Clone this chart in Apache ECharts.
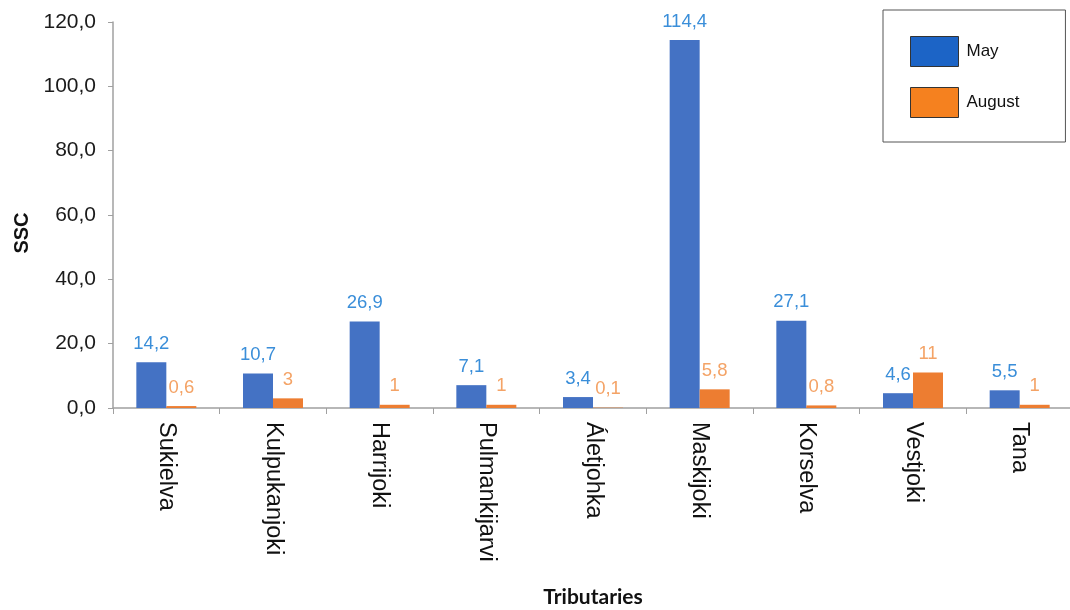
<!DOCTYPE html>
<html>
<head>
<meta charset="utf-8">
<script src="https://cdn.jsdelivr.net/npm/echarts@6/dist/echarts.min.js"></script>
<style>
  html, body { margin: 0; padding: 0; background: #fff; }
  #chart { width: 1070px; height: 610px; }
</style>
</head>
<body>
<div id="chart"></div>
<script>
const categories = ['Sukielva', 'Kulpukanjoki', 'Harrijoki', 'Pulmankijarvi', 'Áletjohka', 'Maskijoki', 'Korselva', 'Vestjoki', 'Tana']
const mayValues = [14.2, 10.7, 26.9, 7.1, 3.4, 114.4, 27.1, 4.6, 5.5]
const augustValues = [0.6, 3, 1, 1, 0.1, 5.8, 0.8, 11, 1]
const yTicks = [0, 20, 40, 60, 80, 100, 120]

const comma = (v) => String(v).replace('.', ',')

const chart = echarts.init(document.getElementById('chart'))

function barSeries(name, data, color, labelColor) {
  return {
    name,
    type: 'bar',
    data,
    barWidth: 30,
    barGap: '0%',
    itemStyle: { color },
    label: {
      show: true,
      position: 'top',
      distance: 9,
      color: labelColor,
      fontFamily: 'Liberation Sans',
      fontSize: 18.5,
      formatter: (p) => comma(p.value),
    },
  }
}

chart.setOption({
  animation: false,
  textStyle: { fontFamily: 'Liberation Sans' },
  grid: { left: 113, top: 22, width: 960, bottom: 202, containLabel: false, outerBoundsMode: 'none' },
  legend: {
    orient: 'vertical',
    left: 883,
    top: 10,
    padding: [26, 46, 24, 27],
    itemWidth: 48,
    itemHeight: 30,
    itemGap: 20,
    borderColor: '#555',
    borderWidth: 1,
    borderRadius: 0,
    textStyle: { fontSize: 17, color: '#111', fontFamily: 'Liberation Sans', padding: [0, 0, 0, 3] },
    data: [
      { name: 'May', icon: 'rect', itemStyle: { color: '#1c64c6', borderColor: '#333', borderWidth: 1 } },
      { name: 'August', icon: 'rect', itemStyle: { color: '#f5811f', borderColor: '#333', borderWidth: 1 } },
    ],
  },
  xAxis: {
    type: 'category',
    data: categories,
    name: 'Tributaries',
    nameLocation: 'middle',
    nameGap: 179,
    nameTextStyle: { fontFamily: 'Lato', fontWeight: 'bold', fontSize: 21, color: '#111' },
    axisLine: { lineStyle: { color: '#a0a0a0', width: 1.5 } },
    axisTick: { show: true, length: 6, lineStyle: { color: '#a0a0a0' } },
    axisLabel: { rotate: -90, margin: 14, fontSize: 23.5, color: '#111', interval: 0 },
  },
  yAxis: {
    type: 'value',
    min: yTicks[0],
    max: yTicks[yTicks.length - 1],
    interval: 20,
    name: 'SSC',
    nameLocation: 'middle',
    nameRotate: 90,
    nameGap: 80,
    nameTextStyle: { fontWeight: 'bold', fontSize: 20, color: '#111', padding: [0, 36, 0, 0] },
    axisLine: { show: true, lineStyle: { color: '#a0a0a0', width: 1.5 } },
    axisTick: { show: true, length: 5, lineStyle: { color: '#a0a0a0' } },
    splitLine: { show: false },
    axisLabel: {
      fontSize: 21,
      color: '#1a1a1a',
      margin: 17,
      formatter: (v) => v.toFixed(1).replace('.', ','),
    },
  },
  series: [
    barSeries('May', mayValues, '#4472c4', '#3a8ed9'),
    barSeries('August', augustValues, '#ed7d31', '#f4a366'),
  ],
})
</script>
</body>
</html>
